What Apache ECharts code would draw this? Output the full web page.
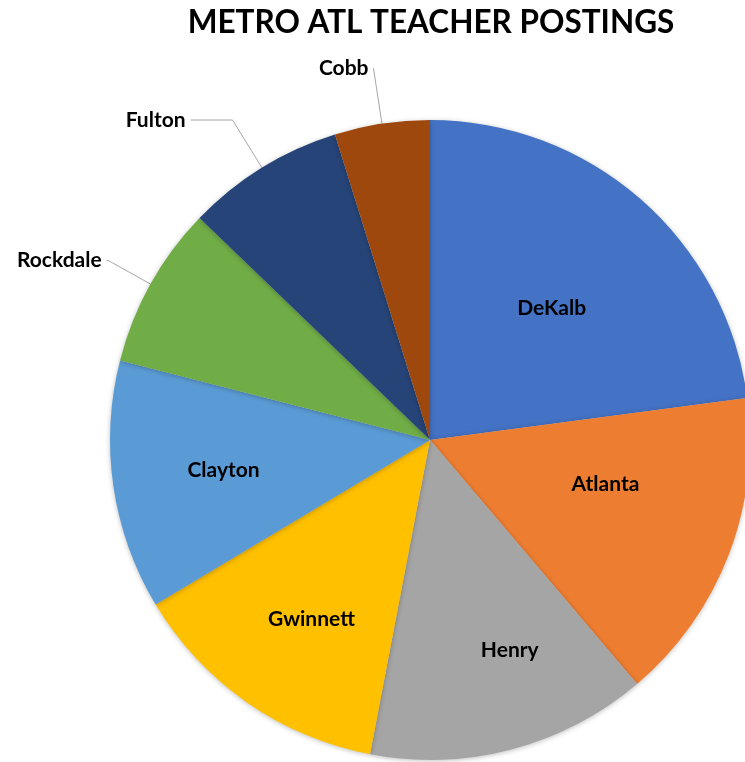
<!DOCTYPE html>
<html>
<head>
<meta charset="utf-8">
<script src="https://cdn.jsdelivr.net/npm/echarts@6/dist/echarts.min.js"></script>
<style>
  html, body { margin: 0; padding: 0; background: #fff; }
  #chart { width: 745px; height: 762px; }
</style>
</head>
<body>
<div id="chart"></div>
<script>
const districts = ["DeKalb", "Atlanta", "Henry", "Gwinnett", "Clayton", "Rockdale", "Fulton", "Cobb"];
const postings = [22.9, 15.9, 14.2, 13.4, 12.6, 8.2, 8.0, 4.8];
const colors = ["#4472C4", "#ED7D31", "#A5A5A5", "#FFC000", "#5B9BD5", "#70AD47", "#264478", "#9E480E"];

// small slices get an outside label with a leader line
const outsideLines = {
  Rockdale: { length: 48, length2: 2 },
  Fulton: { length: 56, length2: 42 },
  Cobb: { length: 56, length2: 0 }
};
// inside labels: push outward (factor) and turn a little (degrees), like Excel's best fit
const insidePush = {
  DeKalb: [1.1, 1.5],
  Atlanta: [1.11, -7],
  Henry: [1.38, -6],
  Gwinnett: [1.32, -1.5],
  Clayton: [1.28, 0]
};

const cx = 430, cy = 440, radius = 320;
const font = "Lato, 'Open Sans', sans-serif";
const chart = echarts.init(document.getElementById("chart"));

const data = districts.map((name, i) => {
  const item = { name, value: postings[i], itemStyle: { color: colors[i] } };
  if (outsideLines[name]) {
    item.label = { position: "outside" };
    item.labelLine = { show: true, length: outsideLines[name].length, length2: outsideLines[name].length2 };
  }
  return item;
});

chart.setOption({
  animation: false,
  title: {
    text: "METRO ATL TEACHER POSTINGS",
    left: 426,
    textAlign: "center",
    top: 2,
    textStyle: { fontFamily: font, fontSize: 31.5, fontWeight: "bold", color: "#000" }
  },
  series: [{
    type: "pie",
    center: [cx, cy],
    radius,
    startAngle: 90,
    clockwise: true,
    avoidLabelOverlap: false,
    data,
    itemStyle: {
      borderWidth: 0,
      shadowBlur: 5,
      shadowColor: "rgba(0,0,0,0.25)",
      shadowOffsetY: 1
    },
    label: {
      show: true,
      position: "inside",
      formatter: "{b}",
      fontFamily: font,
      fontSize: 21,
      fontWeight: "bold",
      color: "#000"
    },
    labelLine: {
      show: false,
      lineStyle: { color: "#A6A6A6", width: 1 }
    },
    labelLayout: (p) => {
      const push = insidePush[districts[p.dataIndex]];
      if (!push) {
        return {};
      }
      const r = p.labelRect;
      const dx = (r.x + r.width / 2 - cx) * push[0];
      const dy = (r.y + r.height / 2 - cy) * push[0];
      const a = push[1] * Math.PI / 180;
      return {
        x: cx + dx * Math.cos(a) - dy * Math.sin(a),
        y: cy + dx * Math.sin(a) + dy * Math.cos(a),
        align: "center",
        verticalAlign: "middle"
      };
    },
    emphasis: { disabled: true }
  }]
});
</script>
</body>
</html>
